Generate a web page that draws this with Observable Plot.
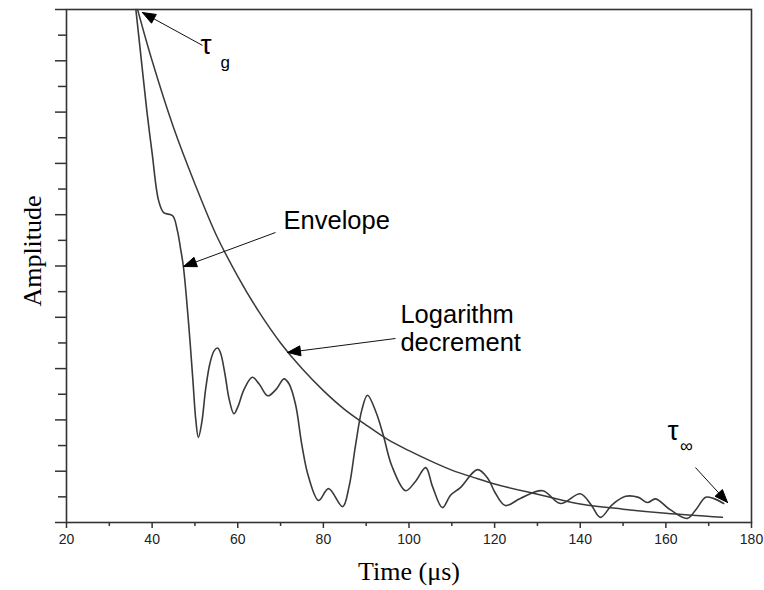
<!DOCTYPE html>
<html><head><meta charset="utf-8">
<script src="https://cdn.jsdelivr.net/npm/d3@7"></script>
<script src="https://cdn.jsdelivr.net/npm/@observablehq/plot@0.6"></script>
<style>body{margin:0;background:#fff}svg{display:block}</style>
</head><body><div id="chart"></div>
<script>
// Oscillating signal
const timeSignal = [36.2,37.5,38.8,40,41.5,42.7,44.8,45.9,46.6,47.3,48.5,49.5,50.2,50.8,51.6,52.5,53.5,54.5,55.3,56,57,58,59.1,60,61.5,63.4,65,67,69,70.8,72,73.5,75,76.5,78.9,81.2,84.5,86,87.5,89,90.3,92.3,94,96,99.2,101.5,103.9,105.5,107.8,109.7,112,116,118.5,120,122.5,126,131.2,135.4,140,142.5,144.7,147.5,150.6,153.6,155.7,157.6,161,165,167,169.3,171.1,173.5];
const ampSignal  = [10,9.0,8.0,7.2,6.28,6.04,5.98,5.69,5.36,4.99,3.9,2.8,2.0,1.66,1.95,2.6,3.1,3.35,3.4,3.3,2.9,2.4,2.12,2.25,2.6,2.83,2.7,2.47,2.6,2.8,2.7,2.3,1.5,0.9,0.43,0.66,0.31,0.7,1.5,2.2,2.48,2.15,1.7,1.1,0.62,0.8,1.07,0.7,0.29,0.53,0.68,1.03,0.85,0.6,0.33,0.47,0.62,0.37,0.56,0.35,0.10,0.35,0.51,0.49,0.39,0.46,0.25,0.08,0.25,0.49,0.47,0.37];
// Smooth decay curve
const timeDecay = [36.6,40,45,50,55,60,65,70,75,80,85,90,95,100,105,110,115,120,130,140,150,160,173.2];
const ampDecay  = [10,9.0,7.7,6.6,5.6,4.8,4.1,3.5,3.0,2.57,2.2,1.9,1.62,1.4,1.2,1.02,0.88,0.75,0.55,0.36,0.26,0.18,0.10];

const xTickMajor = [20,40,60,80,100,120,140,160,180];
const xTickMinor = [30,50,70,90,110,130,150,170];
const yTickMajor = [0,1,2,3,4,5,6,7,8,9,10];
const yTickMinor = [0.5,1.5,2.5,3.5,4.5,5.5,6.5,7.5,8.5,9.5];

const noteText   = ["τ","g","Envelope","Logarithm","decrement","τ","∞"];
const noteX      = [51.3,55.97,70.69,98.0,98.0,160.38,163.3];
const noteY      = [9.14,8.85,5.73,3.88,3.35,1.60,1.38];
const noteSize   = [28,17,25.5,25.5,25.5,28,18];
const noteFont   = ["Liberation Serif","Liberation Serif","Liberation Sans","Liberation Sans","Liberation Sans","Liberation Serif","Liberation Serif"];

const arrowX1 = [51.77,68.82,96.85,166.9];
const arrowY1 = [9.30,5.653,3.587,1.072];
const arrowX2 = [37.75,47.33,71.62,174.4];
const arrowY2 = [9.94,4.99,3.314,0.39];

const W = 764, H = 590, ML = 66, MR = 13, MT = 9, MB = 68;
const xDomain = [20,180], yDomain = [0,10];
const kx = (W-ML-MR)/(xDomain[1]-xDomain[0]);
const ky = (H-MT-MB)/(yDomain[1]-yDomain[0]);

const signal = timeSignal.map((t,i)=>({t, a: ampSignal[i]}));
const decay = timeDecay.map((t,i)=>({t, a: ampDecay[i]}));
const notes = noteText.map((s,i)=>({s, x: noteX[i], y: noteY[i], size: noteSize[i], font: noteFont[i]}));
const arrows = arrowX1.map((x1,i)=>({x1, y1: arrowY1[i], x2: arrowX2[i], y2: arrowY2[i]}));

// arrowheads as filled triangles (computed in pixel space, mapped back to data)
const heads = [];
const HL = 13, HW = 5;
arrows.forEach((a,i)=>{
  const dx = (a.x2-a.x1)*kx, dy = -(a.y2-a.y1)*ky;
  const L = Math.hypot(dx,dy), ux = dx/L, uy = dy/L;
  const bx = -ux*HL, by = -uy*HL;
  const pts = [[0,0],[bx - uy*HW, by + ux*HW],[bx + uy*HW, by - ux*HW],[0,0]];
  pts.forEach(([px,py])=>heads.push({id:i, x: a.x2 + px/kx, y: a.y2 - py/ky}));
});

const plot = Plot.plot({
  width: W, height: H,
  marginLeft: ML, marginRight: MR, marginTop: MT, marginBottom: MB,
  x: {domain: xDomain},
  y: {domain: yDomain},
  style: {fontFamily: "Liberation Sans, Arial, sans-serif", fontSize: "14px", background: "#fff", color: "#222"},
  marks: [
    Plot.axisX({ticks: xTickMajor, tickSize: 6, tickPadding: 6, label: null, stroke: "#333", strokeWidth: 1.5, fontSize: 14}),
    Plot.axisX({ticks: xTickMinor, tickSize: 4, tickFormat: () => "", label: null, stroke: "#333", strokeWidth: 1.5}),
    Plot.axisY({ticks: yTickMajor, tickSize: 11, tickFormat: () => "", label: null, stroke: "#333", strokeWidth: 1.5}),
    Plot.axisY({ticks: yTickMinor, tickSize: 8, tickFormat: () => "", label: null, stroke: "#333", strokeWidth: 1.5}),
    Plot.frame({stroke: "#333", strokeWidth: 1.6}),
    Plot.line(decay, {x: "t", y: "a", curve: "catmull-rom", stroke: "#3a3a3a", strokeWidth: 1.5}),
    Plot.line(signal, {x: "t", y: "a", curve: "catmull-rom", stroke: "#3a3a3a", strokeWidth: 1.6}),
    Plot.link(arrows, {x1: "x1", y1: "y1", x2: "x2", y2: "y2", stroke: "#111", strokeWidth: 1}),
    Plot.line(heads, {x: "x", y: "y", z: "id", fill: "#000", stroke: "#000", strokeWidth: 1}),
    Plot.text(notes, {x: "x", y: "y", text: "s", fontSize: "size", fontFamily: d => d.font, textAnchor: "start", lineAnchor: "bottom", fill: "#000"}),
    Plot.text(["Time (μs)"], {frameAnchor: "bottom", lineAnchor: "bottom", dy: 57, fontSize: 26, fontFamily: "Liberation Serif", fill: "#000"}),
    Plot.text(["Amplitude"], {frameAnchor: "left", textAnchor: "middle", lineAnchor: "bottom", rotate: -90, dx: -26, dy: -15, fontSize: 26, fontFamily: "Liberation Serif", fill: "#000"})
  ]
});
document.getElementById("chart").appendChild(plot);
</script>
</body></html>
